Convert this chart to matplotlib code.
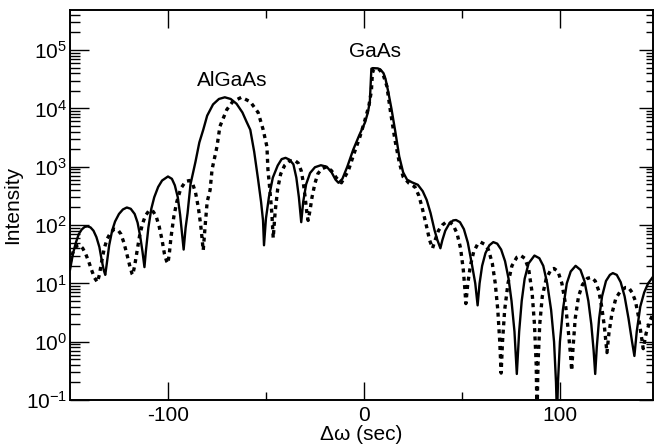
import numpy as np
import matplotlib
matplotlib.use("Agg")
import matplotlib.pyplot as plt
from matplotlib.ticker import FixedLocator, LogLocator, NullFormatter

plt.rcParams['font.family'] = ['Liberation Sans', 'DejaVu Sans']

# solid curve
solid_x = [-150, -148.5, -147, -145.5, -144, -142.5, -141, -139.5, -138, -136.5, -135, -133.8, -132.8, -132,
           -131.2, -130, -128.5, -127, -125, -123, -121, -119, -117, -115.5, -114.2, -113, -112.4, -112,
           -111.3, -110, -108.5, -107, -105, -103, -100, -98, -96.5, -95, -93.8, -92.8, -92,
           -91, -90, -88.5, -86, -84, -82, -80, -77, -74, -71, -68, -65, -62, -60, -58, -56, -54,
           -52.5, -51.5, -51,
           -50, -48.5, -46.5, -44, -42, -40, -38, -36, -34.5, -33.2, -32,
           -31, -29.5, -27.5, -25, -22, -19, -16.5, -14.5, -13,
           -11, -8.5, -5.5, -2.5, 0.5, 2, 3, 3.4, 3.8, 4.5, 7, 8.5, 10, 11, 12.3, 14, 16, 18, 20, 22,
           24.5, 27.5, 30, 32, 34, 36, 37.5, 39,
           40, 41.5, 43.5, 45.5, 47, 49, 51, 53, 55, 56.8, 58,
           59, 60.3, 62, 64, 66, 68, 70, 72, 73.8, 75.3, 76.8, 78,
           79.2, 80.5, 82, 84, 87, 89.5, 91.5, 93.5, 95.5, 97, 98, 98.5,
           99, 100, 101.5, 103.5, 105.5, 108, 110.5, 112.5, 114.5, 116, 117.2, 118,
           118.8, 120, 121.5, 123.5, 125.5, 127, 129, 131, 133, 135, 136.8, 138,
           139.2, 141, 143, 145, 147.5]
solid_y = [17, 32, 50, 70, 84, 93, 95, 91, 80, 62, 42, 25, 17, 14,
           22, 45, 80, 115, 155, 185, 200, 190, 155, 110, 65, 35, 24, 19,
           35, 90, 190, 300, 450, 580, 680, 620, 480, 300, 150, 70, 38,
           90, 160, 500, 1200, 2600, 4300, 7500, 11700, 14500, 15500, 14500, 12000, 8500, 6000, 4300, 1800, 600,
           250, 120, 45,
           130, 300, 650, 1050, 1350, 1420, 1320, 1100, 650, 300, 112,
           250, 500, 780, 980, 1060, 1000, 800, 600, 530,
           620, 1000, 1950, 3400, 5700, 8500, 13000, 25000, 48000, 49000, 48500, 46000, 40000, 32000, 20000, 10000, 4000, 1500, 800, 600,
           540, 490, 380, 270, 160, 82, 55, 40,
           55, 80, 105, 120, 122, 112, 85, 50, 22, 10, 4.2,
           10, 20, 33, 45, 51, 48, 38, 24, 12, 5, 1.5, 0.28,
           1.5, 5, 12, 22, 30, 27, 20, 10, 3.5, 1, 0.2, 0.05,
           0.2, 1, 3.5, 10, 16, 20, 17, 11, 5, 2, 0.7, 0.28,
           0.8, 2.5, 6, 11, 14, 15, 14, 10.5, 6, 2.5, 1, 0.57,
           1.5, 4, 7, 10, 13]

# dotted curve
dot_x = [-150, -149, -148, -146.5, -145, -143.5, -142, -140.5, -139, -137.5, -136,
         -135, -134, -132.5, -131, -129.5, -127.5, -125.5, -124, -122.5, -121, -119.5, -118.3, -118,
         -117, -116, -114.5, -113, -111.5, -109.5, -107.5, -106, -104.5, -103, -101.8, -100.7, -100,
         -99.2, -98.5, -97, -95.5, -93.5, -91, -89, -87.5, -86, -84.5, -83.3, -82.5, -82,
         -81, -80, -78.5, -77.5, -75, -73.5, -70, -67, -62.5, -58, -54, -51.5, -49.5, -49, -48, -47, -46.3,
         -45.3, -44, -42.5, -40.5, -38, -35.5, -33.5, -32, -31, -30, -29.2, -28.5,
         -27.5, -26.5, -25, -23.5, -21.5, -19, -16.5, -14, -11.5,
         -8, -5, -2, 0.5, 2.5, 3.8, 4.3, 5, 6, 8, 10, 11.7, 13.5, 15.8, 18, 20, 23, 26, 28, 29.6, 31, 32, 33.5, 35,
         36.3, 38, 40, 42, 43.5, 45.5, 47.5, 49.3, 50.7, 51.5, 52,
         53, 54.3, 56, 58, 59.5, 61.5, 63.5, 65.5, 67, 68.3, 69.3, 70,
         70.7, 71.8, 73.5, 75.5, 78, 80, 82, 84, 85.8, 87, 87.9, 88.3,
         88.8, 89.7, 91, 93, 95.5, 97, 99, 101, 102.8, 104.3, 105.4, 106,
         106.7, 107.8, 109.5, 111.5, 114, 116, 118, 119.8, 121.3, 122.7, 123.6, 124,
         125, 126.5, 128.5, 131, 133.5, 135, 136.8, 138.5, 140, 141.5, 142.5,
         144, 146, 147.5]
dot_y = [22, 30, 38, 44, 45, 40, 32, 24, 17, 12.5, 10.5,
         14, 22, 40, 58, 72, 85, 82, 70, 50, 32, 20, 14.5, 14,
         20, 32, 65, 105, 145, 180, 170, 140, 95, 55, 32, 24, 22,
         35, 60, 140, 250, 420, 560, 580, 520, 370, 200, 100, 55, 37,
         100, 250, 400, 900, 2200, 4900, 9500, 13000, 15500, 13000, 8500, 4400, 2200, 900, 400, 160, 60,
         170, 420, 750, 1050, 1250, 1300, 1150, 850, 550, 300, 170, 120,
         180, 300, 520, 760, 920, 1000, 850, 640, 530,
         850, 1700, 3300, 6300, 11000, 20000, 40000, 47000, 48500, 46000, 36000, 24000, 9000, 2900, 1200, 670, 520, 450, 320, 205, 130, 93, 55, 40,
         55, 80, 100, 113, 115, 100, 72, 40, 17, 8, 4.5,
         10, 20, 35, 47, 51, 47, 38, 22, 10, 3.5, 1, 0.29,
         1, 3.5, 10, 20, 28, 30, 27, 18, 7, 2, 0.4, 0.05,
         0.4, 2, 6, 12, 17.5, 18, 16, 10, 4.5, 1.5, 0.6, 0.32,
         0.8, 2.5, 6, 9.5, 12.2, 12.7, 11, 7.5, 4, 1.8, 0.9, 0.65,
         1.4, 3, 5.5, 7.5, 8.5, 8.5, 7, 5, 2.8, 1.3, 0.76,
         1.4, 2.3, 3]

fig = plt.figure(figsize=(6.54, 4.45), dpi=100)
ax = fig.add_axes([0.107, 0.101, 0.8915, 0.877])

ax.plot(solid_x, solid_y, color='black', lw=1.7, solid_joinstyle='round')
ax.plot(dot_x, dot_y, color='black', lw=2.4, linestyle=(0, (1.2, 1.3)), dash_capstyle='butt')

ax.set_yscale('log')
ax.set_xlim(-150, 147.5)
ax.set_ylim(0.1, 4.9e5)

ax.xaxis.set_major_locator(FixedLocator([-100, 0, 100]))
ax.xaxis.set_minor_locator(FixedLocator([-50, 50]))
ax.set_xticklabels(['-100', '0', '100'])
ax.yaxis.set_major_locator(LogLocator(base=10, numticks=20))
ax.yaxis.set_minor_locator(LogLocator(base=10, subs=np.arange(2, 10), numticks=20))
ax.yaxis.set_minor_formatter(NullFormatter())

ax.tick_params(axis='x', which='major', direction='in', length=13, width=1, top=True, labelsize=15, pad=4)
ax.tick_params(axis='x', which='minor', direction='in', length=6, width=1, top=True)
ax.tick_params(axis='y', which='major', direction='in', length=14, width=1, right=False, labelsize=15, pad=2)
ax.tick_params(axis='y', which='minor', direction='in', length=7, width=1, right=False)

# right side ticks are shorter
ax2 = ax.twinx()
ax2.set_yscale('log')
ax2.set_ylim(0.1, 4.9e5)
ax2.yaxis.set_major_locator(LogLocator(base=10, numticks=20))
ax2.yaxis.set_minor_locator(LogLocator(base=10, subs=np.arange(2, 10), numticks=20))
ax2.tick_params(axis='y', which='major', direction='in', length=10, width=1, labelright=False)
ax2.tick_params(axis='y', which='minor', direction='in', length=5, width=1, labelright=False)

for a in (ax, ax2):
    for s in a.spines.values():
        s.set_linewidth(1.2)

ax.set_xlabel('Δω (sec)', fontsize=15, labelpad=0)
ax.set_ylabel('Intensity', fontsize=15)
ax.yaxis.set_label_coords(-0.082, 0.5)

ax.text(-67, 29500, 'AlGaAs', fontsize=15, ha='center', va='center')
ax.text(5.6, 96000, 'GaAs', fontsize=15, ha='center', va='center')

fig.savefig('out.png', dpi=100)
